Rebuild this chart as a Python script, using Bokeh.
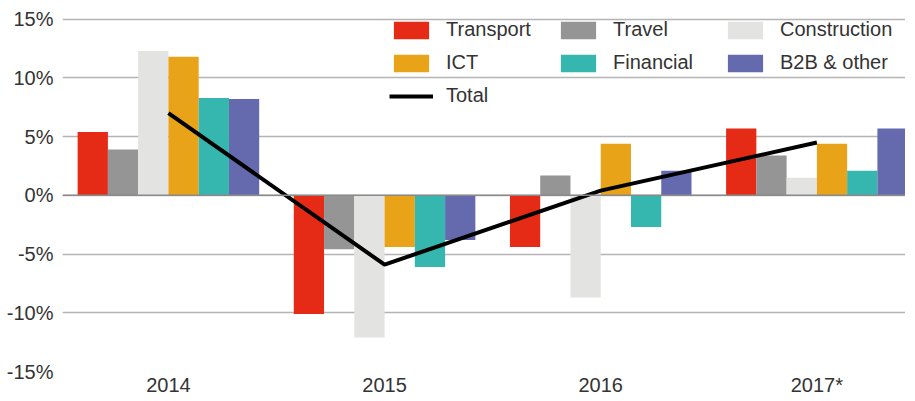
from bokeh.plotting import figure
from bokeh.models import ColumnDataSource, Range1d, FixedTicker, PrintfTickFormatter, Legend, LegendItem, Span
from bokeh.transform import dodge
from bokeh.embed import file_html
from bokeh.resources import INLINE

years = ["2014", "2015", "2016", "2017*"]
sectors = ["Transport", "Travel", "Construction", "ICT", "Financial", "B2B & other"]
transport = [5.4, -10.1, -4.4, 5.7]
travel = [3.9, -4.6, 1.7, 3.4]
construction = [12.3, -12.1, -8.7, 1.5]
ict = [11.8, -4.4, 4.4, 4.4]
financial = [8.3, -6.1, -2.7, 2.1]
b2b = [8.2, -3.8, 2.1, 5.7]
total = [7.0, -5.9, 0.4, 4.5]
colors = ["#E52A16", "#959595", "#E3E3E1", "#E8A319", "#35B6AE", "#656AAE"]

FONT = "Liberation Sans"
TXT = "#333333"

src = ColumnDataSource(dict(x=list(range(len(years))), transport=transport, travel=travel,
                            construction=construction, ict=ict, financial=financial,
                            b2b=b2b, total=total))

p = figure(width=905, height=398, output_backend="svg", toolbar_location=None,
           x_range=Range1d(-0.49, 3.41), y_range=Range1d(-15, 15.4),
           min_border_left=62, min_border_right=0, min_border_top=14, min_border_bottom=0)
p.outline_line_color = None
p.background_fill_color = "white"

w = 0.14
cols = ["transport", "travel", "construction", "ict", "financial", "b2b"]
renderers = []
for i, (c, col) in enumerate(zip(cols, colors)):
    off = (i - 2.5) * w
    r = p.vbar(x=dodge("x", off), top=c, bottom=0, width=w, source=src,
               fill_color=col, line_color=None)
    renderers.append(r)

p.add_layout(Span(location=0, dimension="width", line_color="#8a8a8a", line_width=1.5))

lr = p.line(x="x", y="total", source=src, line_color="black", line_width=4)

# axes
for ax in (p.xaxis, p.yaxis):
    ax.axis_line_color = None
    ax.major_tick_line_color = None
    ax.minor_tick_line_color = None
    ax.major_tick_out = 0
    ax.major_tick_in = 0
    ax.minor_tick_out = 0
    ax.minor_tick_in = 0
    ax.major_label_text_font = FONT
    ax.major_label_text_font_size = "20px"
    ax.major_label_text_color = TXT

p.yaxis.ticker = FixedTicker(ticks=[-15, -10, -5, 0, 5, 10, 15])
p.yaxis.formatter = PrintfTickFormatter(format="%d%%")
p.yaxis.major_label_standoff = 9

p.xaxis.ticker = FixedTicker(ticks=[0, 1, 2, 3])
p.xaxis.major_label_overrides = {i: y for i, y in enumerate(years)}
p.xaxis.major_label_standoff = 2

p.xgrid.grid_line_color = None
p.ygrid.grid_line_color = "#b4b4b4"
p.ygrid.grid_line_width = 1.5

items = [LegendItem(label=s, renderers=[r]) for s, r in zip(sectors, renderers)]
items.append(LegendItem(label="Total", renderers=[lr]))
legend = Legend(items=items, location=(327, 264), orientation="horizontal", ncols=3,
                glyph_width=44, glyph_height=22, label_standoff=13, spacing=10,
                label_height=22, label_width=100, padding=0, margin=0,
                border_line_color=None, background_fill_alpha=0,
                label_text_font=FONT, label_text_font_size="20px", label_text_color=TXT)
p.add_layout(legend, "center")

open("out.html", "w").write(file_html(p, INLINE))
